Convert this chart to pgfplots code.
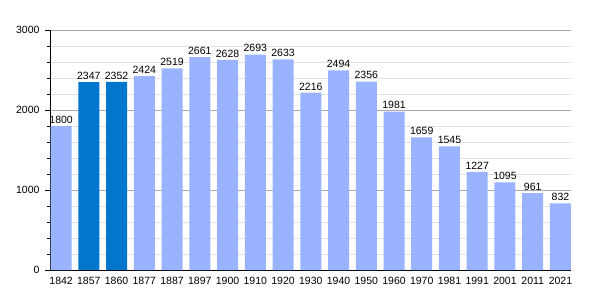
\documentclass[border=0pt]{standalone}
\usepackage{fontspec}
\setmainfont{Liberation Sans}
\usepackage{pgfplots}
\pgfplotsset{compat=1.18}
\definecolor{lightbar}{RGB}{153,179,255}
\definecolor{darkbar}{RGB}{0,119,204}
\definecolor{majgrid}{RGB}{170,170,170}
\definecolor{mingrid}{RGB}{225,225,225}
\begin{document}
\begin{tikzpicture}
\begin{axis}[
  scale only axis,
  width=521pt, height=240pt,
  xmin=-0.4, xmax=18.38,
  ymin=0, ymax=3000,
  axis lines*=left,
  axis line style={black, line width=0.8pt},
  xtick={0,...,18},
  xticklabels={1842,1857,1860,1877,1887,1897,1900,1910,1920,1930,1940,1950,1960,1970,1981,1991,2001,2011,2021},
  x tick style={draw=none},
  ytick={0,1000,2000,3000},
  minor y tick num=4,
  ymajorgrids, yminorgrids,
  major grid style={majgrid, line width=0.6pt},
  minor grid style={mingrid, line width=0.5pt},
  y tick style={black, line width=0.6pt},
  tick align=outside,
  major tick length=5pt, minor tick length=3pt,
  ticklabel style={font=\fontsize{10.5}{12}\selectfont},
  /pgf/number format/assume math mode=true,
  scaled y ticks=false,
  yticklabel style={/pgf/number format/1000 sep={}, xshift=-2pt},
  xticklabel style={yshift=1pt},
  ybar, bar width=21pt,
  bar shift=0pt,
  nodes near coords,
  every node near coord/.append style={font=\fontsize{10.5}{12}\selectfont, /pgf/number format/1000 sep={}, /pgf/number format/assume math mode=true, yshift=-1pt},
  clip=false,
]
\addplot[fill=lightbar, draw=none] coordinates {
(0,1800) (3,2424) (4,2519) (5,2661) (6,2628) (7,2693) (8,2633) (9,2216) (10,2494) (11,2356) (12,1981) (13,1659) (14,1545) (15,1227) (16,1095) (17,961) (18,832)};
\addplot[fill=darkbar, draw=none] coordinates {(1,2347) (2,2352)};
\end{axis}
\useasboundingbox (-50pt,-30pt) rectangle (550pt,270pt);
\end{tikzpicture}
\end{document}
